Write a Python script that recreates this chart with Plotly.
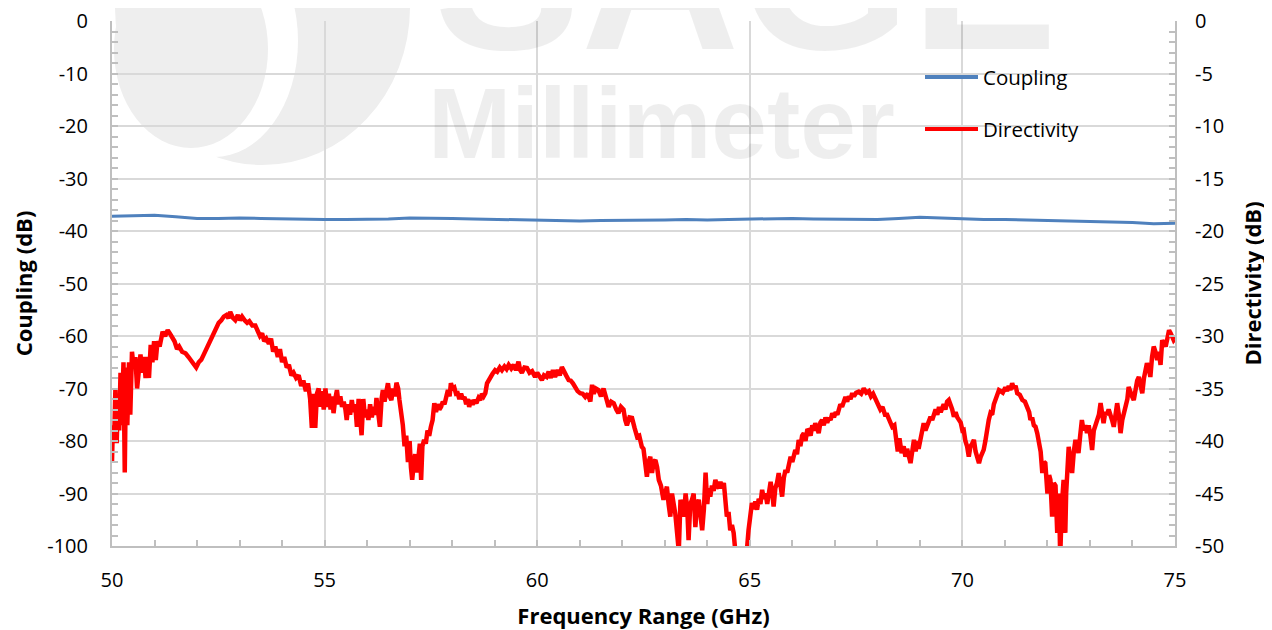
import plotly.graph_objects as go

# ---------------- data ----------------
coupling_freq = [50, 50.5, 51, 51.5, 52, 52.5, 53, 53.5, 54, 54.5, 55, 55.5, 56, 56.5, 57, 57.5, 58,
                 58.5, 59, 59.5, 60, 60.5, 61, 61.5, 62, 62.5, 63, 63.5, 64, 64.5, 65, 65.5, 66,
                 66.5, 67, 67.5, 68, 68.5, 69, 69.5, 70, 70.5, 71, 71.5, 72, 72.5, 73, 73.5, 74,
                 74.5, 75]
coupling_db = [-37.2, -37.1, -37.0, -37.3, -37.6, -37.6, -37.5, -37.6, -37.7, -37.8, -37.8, -37.8,
               -37.8, -37.7, -37.5, -37.5, -37.6, -37.7, -37.8, -37.8, -37.9, -38.0, -38.1, -38.0,
               -38.0, -37.9, -37.9, -37.8, -37.9, -37.8, -37.7, -37.6, -37.6, -37.7, -37.7,
               -37.8, -37.8, -37.6, -37.4, -37.5, -37.7, -37.8, -37.8, -37.9, -38.0, -38.1,
               -38.1, -38.3, -38.4, -38.6, -38.5]

directivity_freq = [
    50.00, 50.02, 50.05, 50.08, 50.11, 50.14, 50.17, 50.20, 50.23, 50.27, 50.30, 50.33, 50.36,
    50.40, 50.43, 50.47, 50.51, 50.55, 50.59, 50.63, 50.67, 50.71, 50.75, 50.79, 50.83, 50.87,
    50.91, 50.95, 50.99, 51.03, 51.07, 51.12, 51.19, 51.25, 51.31, 51.36, 51.41, 51.47, 51.53,
    51.58, 51.65, 51.73, 51.80, 51.88, 51.94, 51.98, 52.04, 52.10, 52.16, 52.22, 52.28, 52.34,
    52.39, 52.45, 52.51, 52.57, 52.63, 52.69, 52.74, 52.78, 52.84, 52.90, 52.96, 53.01, 53.06,
    53.12, 53.18, 53.23, 53.30, 53.37, 53.43, 53.48, 53.53, 53.58, 53.63, 53.69, 53.74, 53.79,
    53.84, 53.90, 53.95, 54.00, 54.05, 54.11, 54.16, 54.22, 54.27, 54.33, 54.39, 54.45, 54.50,
    54.56, 54.61, 54.66, 54.70, 54.73, 54.78, 54.82, 54.86, 54.90, 54.94, 54.98, 55.02, 55.06,
    55.10, 55.14, 55.18, 55.21, 55.25, 55.29, 55.33, 55.37, 55.41, 55.45, 55.49, 55.52, 55.56,
    55.60, 55.64, 55.68, 55.72, 55.76, 55.80, 55.84, 55.87, 55.91, 55.95, 55.99, 56.03, 56.07,
    56.11, 56.15, 56.19, 56.22, 56.26, 56.30, 56.34, 56.37, 56.41, 56.45, 56.49, 56.53, 56.57,
    56.61, 56.65, 56.69, 56.73, 56.76, 56.80, 56.84, 56.88, 56.92, 56.96, 57.00, 57.03, 57.06,
    57.10, 57.13, 57.17, 57.20, 57.24, 57.27, 57.30, 57.34, 57.38, 57.42, 57.46, 57.50, 57.54,
    57.58, 57.62, 57.66, 57.70, 57.74, 57.78, 57.82, 57.86, 57.90, 57.94, 57.97, 58.01, 58.05,
    58.09, 58.13, 58.17, 58.21, 58.25, 58.29, 58.33, 58.37, 58.40, 58.44, 58.48, 58.52, 58.57,
    58.62, 58.66, 58.70, 58.74, 58.78, 58.82, 58.86, 58.90, 58.95, 59.01, 59.06, 59.12, 59.17,
    59.23, 59.28, 59.33, 59.39, 59.45, 59.50, 59.56, 59.60, 59.64, 59.70, 59.76, 59.82, 59.88,
    59.95, 60.00, 60.05, 60.11, 60.16, 60.22, 60.27, 60.32, 60.37, 60.42, 60.48, 60.53, 60.58,
    60.63, 60.68, 60.74, 60.79, 60.84, 60.89, 60.95, 61.01, 61.07, 61.13, 61.19, 61.25, 61.29,
    61.33, 61.38, 61.44, 61.50, 61.56, 61.62, 61.68, 61.74, 61.80, 61.86, 61.91, 61.97, 62.03,
    62.07, 62.11, 62.17, 62.23, 62.29, 62.35, 62.40, 62.46, 62.50, 62.54, 62.58, 62.62, 62.66,
    62.70, 62.74, 62.78, 62.82, 62.86, 62.91, 62.97, 63.01, 63.05, 63.09, 63.13, 63.17, 63.21,
    63.25, 63.29, 63.33, 63.37, 63.41, 63.45, 63.49, 63.53, 63.56, 63.60, 63.64, 63.68, 63.72,
    63.76, 63.80, 63.84, 63.88, 63.92, 63.96, 64.00, 64.03, 64.07, 64.11, 64.15, 64.19, 64.23,
    64.27, 64.31, 64.35, 64.39, 64.43, 64.46, 64.50, 64.54, 64.58, 64.62, 64.66, 64.75, 64.85,
    64.93, 64.97, 65.01, 65.05, 65.09, 65.13, 65.17, 65.21, 65.25, 65.29, 65.33, 65.37, 65.41,
    65.45, 65.49, 65.53, 65.56, 65.60, 65.64, 65.68, 65.72, 65.76, 65.80, 65.84, 65.88, 65.92,
    65.96, 66.00, 66.04, 66.07, 66.11, 66.15, 66.19, 66.23, 66.27, 66.31, 66.35, 66.39, 66.43,
    66.47, 66.51, 66.54, 66.58, 66.62, 66.66, 66.70, 66.74, 66.78, 66.82, 66.86, 66.90, 66.94,
    66.98, 67.02, 67.06, 67.09, 67.13, 67.17, 67.21, 67.25, 67.29, 67.33, 67.37, 67.41, 67.45,
    67.50, 67.56, 67.62, 67.68, 67.74, 67.80, 67.85, 67.90, 67.96, 68.01, 68.07, 68.12, 68.18,
    68.23, 68.29, 68.35, 68.40, 68.44, 68.48, 68.52, 68.57, 68.62, 68.66, 68.70, 68.74, 68.78,
    68.82, 68.86, 68.90, 68.94, 68.97, 69.01, 69.05, 69.09, 69.13, 69.17, 69.21, 69.25, 69.29,
    69.33, 69.37, 69.41, 69.45, 69.49, 69.52, 69.56, 69.60, 69.64, 69.68, 69.72, 69.76, 69.80,
    69.84, 69.88, 69.92, 69.96, 70.00, 70.03, 70.07, 70.11, 70.15, 70.19, 70.23, 70.27, 70.31,
    70.35, 70.39, 70.43, 70.46, 70.50, 70.54, 70.58, 70.62, 70.66, 70.70, 70.74, 70.78, 70.82,
    70.86, 70.90, 70.95, 71.01, 71.05, 71.09, 71.13, 71.17, 71.21, 71.25, 71.29, 71.35, 71.41,
    71.47, 71.53, 71.57, 71.60, 71.64, 71.68, 71.72, 71.76, 71.80, 71.84, 71.88, 71.92, 71.95,
    71.98, 72.00, 72.04, 72.07, 72.09, 72.11, 72.15, 72.19, 72.21, 72.23, 72.27, 72.30, 72.34,
    72.38, 72.40, 72.42, 72.44, 72.46, 72.50, 72.54, 72.58, 72.62, 72.66, 72.70, 72.73, 72.77,
    72.81, 72.85, 72.89, 72.93, 72.97, 73.01, 73.05, 73.09, 73.13, 73.17, 73.21, 73.25, 73.28,
    73.32, 73.36, 73.40, 73.44, 73.48, 73.52, 73.56, 73.60, 73.64, 73.68, 73.72, 73.76, 73.80,
    73.84, 73.88, 73.91, 73.95, 73.99, 74.03, 74.07, 74.11, 74.15, 74.19, 74.23, 74.27, 74.30,
    74.34, 74.38, 74.42, 74.46, 74.50, 74.54, 74.58, 74.62, 74.66, 74.70, 74.74, 74.78, 74.82,
    74.86, 74.90, 74.93, 74.97, 75.00]

directivity_db = [
    -42.0, -38.5, -40.0, -35.0, -40.2, -36.0, -39.0, -33.5, -38.5, -32.5, -43.0, -33.0, -38.5,
    -32.5, -37.5, -31.5, -33.0, -32.0, -35.0, -33.0, -31.75, -33.5, -32.0, -34.0, -32.0, -34.0,
    -30.85, -32.5, -30.5, -32.3, -30.5, -31.0, -29.6, -30.0, -29.45, -29.75, -30.15, -30.5, -31.25,
    -31.0, -31.5, -31.65, -32.0, -32.45, -32.75, -33.0, -32.5, -32.25, -31.75, -31.25, -30.75, -30.25,
    -29.75, -29.25, -28.75, -28.5, -28.15, -28.0, -28.3, -27.7, -28.25, -28.5, -28.0, -28.5, -28.15,
    -28.5, -28.75, -28.6, -29.0, -29.0, -29.5, -30.0, -29.75, -30.5, -30.25, -30.75, -30.25, -31.5,
    -31.0, -32.0, -31.25, -32.5, -32.0, -33.0, -32.75, -33.75, -33.5, -34.0, -33.75, -34.75, -34.25,
    -35.25, -34.5, -36.0, -38.75, -35.5, -38.75, -35.5, -35.0, -36.75, -35.25, -37.0, -35.0, -36.75,
    -35.5, -37.0, -35.75, -37.35, -36.0, -35.15, -36.5, -35.75, -36.75, -36.25, -37.0, -38.0, -36.5,
    -37.5, -36.1, -37.25, -36.5, -38.65, -36.0, -37.5, -39.45, -36.0, -37.75, -37.0, -38.0, -36.5,
    -37.75, -36.75, -37.5, -35.9, -37.0, -38.65, -36.0, -35.15, -36.25, -35.0, -34.5, -35.75, -36.1,
    -35.0, -35.75, -34.45, -35.0, -36.1, -37.0, -38.5, -40.5, -39.5, -42.0, -40.0, -42.5, -43.7,
    -42.0, -41.25, -43.0, -41.5, -40.25, -43.7, -40.5, -39.9, -40.25, -39.0, -39.5, -38.65, -38.0,
    -36.4, -37.25, -36.5, -37.0, -36.75, -36.25, -36.5, -35.5, -35.15, -35.75, -34.5, -35.0, -34.9,
    -35.5, -35.45, -36.0, -35.5, -36.0, -35.8, -36.5, -36.0, -36.75, -36.1, -36.55, -36.1, -36.4,
    -35.9, -36.1, -35.5, -35.75, -35.45, -34.5, -34.2, -33.75, -33.6, -33.25, -33.4, -33.0, -33.25,
    -32.9, -33.15, -32.75, -33.1, -32.75, -33.25, -32.45, -33.25, -33.5, -33.0, -33.05, -33.5, -33.35,
    -33.9, -33.5, -33.75, -34.2, -33.75, -33.9, -33.4, -34.0, -33.25, -33.9, -33.25, -33.75, -32.95,
    -33.5, -33.75, -34.2, -34.25, -34.5, -34.85, -35.25, -35.45, -35.5, -35.8, -35.5, -36.25, -34.65,
    -35.5, -35.0, -35.15, -35.75, -35.0, -36.0, -36.75, -36.25, -36.4, -37.0, -37.35, -36.75, -37.0,
    -38.0, -38.5, -37.75, -37.8, -38.75, -39.6, -39.5, -40.55, -40.75, -41.8, -43.4, -42.0, -41.5,
    -43.05, -42.0, -41.8, -42.5, -43.7, -44.25, -45.6, -44.75, -44.35, -46.0, -47.2, -45.0, -45.9,
    -47.0, -48.75, -50.5, -45.6, -46.5, -47.2, -45.0, -46.5, -49.45, -46.0, -45.6, -45.0, -48.2,
    -46.0, -45.6, -47.0, -48.5, -46.5, -43.0, -46.0, -44.5, -45.3, -44.25, -44.75, -43.7, -44.25,
    -44.5, -43.9, -44.5, -44.0, -45.5, -47.2, -46.75, -48.5, -48.0, -48.75, -50.5, -51.5, -51.5,
    -50.5, -48.5, -47.0, -45.9, -46.5, -45.75, -46.55, -45.5, -46.0, -44.65, -45.5, -45.0, -46.0,
    -44.75, -43.9, -45.0, -46.25, -44.5, -44.0, -43.05, -44.0, -45.3, -43.5, -42.75, -43.0, -42.0,
    -41.5, -42.0, -41.0, -40.85, -41.25, -39.9, -40.5, -39.5, -39.25, -40.0, -39.0, -38.95, -39.5,
    -38.5, -39.0, -38.3, -38.75, -39.25, -38.25, -38.0, -38.5, -37.75, -38.25, -37.8, -38.0, -37.35,
    -37.75, -37.25, -37.5, -37.0, -36.5, -36.75, -36.25, -35.8, -36.25, -35.75, -36.0, -35.45, -35.75,
    -35.4, -35.3, -35.5, -35.0, -35.4, -35.25, -35.75, -35.5, -36.1, -36.5, -37.0, -36.75, -37.5,
    -37.5, -38.0, -38.65, -38.5, -40.25, -41.0, -39.75, -41.15, -40.5, -41.5, -40.75, -41.5, -42.1,
    -41.0, -39.9, -41.0, -40.0, -40.75, -39.75, -39.25, -38.3, -39.0, -38.5, -38.0, -37.7, -38.0,
    -37.25, -37.0, -37.5, -36.75, -37.25, -37.0, -36.5, -37.0, -36.25, -36.1, -36.5, -37.0, -37.7,
    -37.25, -37.75, -38.0, -38.25, -39.0, -38.95, -40.0, -40.5, -41.5, -40.5, -40.25, -39.9, -41.0,
    -41.5, -42.1, -41.5, -41.25, -40.85, -40.0, -38.65, -38.0, -37.35, -37.5, -36.5, -36.1, -35.5,
    -35.15, -35.25, -35.4, -34.9, -35.25, -34.75, -35.15, -34.5, -35.0, -34.75, -35.45, -35.6, -36.1,
    -36.25, -36.75, -37.25, -38.0, -37.75, -38.5, -38.65, -39.25, -40.2, -41.0, -43.05, -42.0, -42.1,
    -43.5, -45.0, -43.25, -43.7, -45.5, -47.2, -44.0, -44.25, -46.5, -48.75, -45.0, -51.0, -46.0,
    -43.7, -46.5, -48.75, -45.0, -43.7, -40.55, -42.0, -43.05, -41.0, -39.9, -40.5, -41.15, -39.5,
    -38.0, -39.0, -38.5, -39.25, -38.5, -39.5, -40.85, -39.0, -38.5, -38.0, -37.5, -36.4, -37.5,
    -38.3, -37.25, -37.5, -37.0, -37.75, -38.0, -38.65, -37.5, -36.4, -37.5, -39.25, -38.0, -37.25,
    -36.75, -36.0, -34.85, -35.5, -35.75, -36.1, -35.0, -34.25, -33.9, -34.5, -35.45, -34.0, -33.25,
    -32.6, -33.0, -33.9, -32.0, -31.0, -31.5, -32.3, -31.5, -32.75, -30.4, -30.75, -31.0, -30.25,
    -29.45, -29.75, -30.1, -30.4, -30.25]

x_ticks = [50, 55, 60, 65, 70, 75]
left_ticks = [0, -10, -20, -30, -40, -50, -60, -70, -80, -90, -100]
right_ticks = [0, -5, -10, -15, -20, -25, -30, -35, -40, -45, -50]
series_names = ["Coupling", "Directivity"]
series_colors = ["#4F81BD", "#FF0000"]

# ---------------- layout helpers ----------------
# the page body adds an 8 px offset, so the figure is 8 px smaller than the window
OFF = 8
W, H = 1272 - OFF, 630 - OFF
L, R, T, B = 112, 1175, 21, 546          # plot area in window pixels
def px(x):
    return (x - L) / (R - L)
def py(y):
    return (B - y) / (B - T)

FONT = "Open Sans"
AX = "#BFBFBF"
GRID = "#D9D9D9"

fig = go.Figure()
fig.add_trace(go.Scatter(x=coupling_freq, y=coupling_db, name=series_names[0], mode="lines",
                         line=dict(color=series_colors[0], width=3), showlegend=False))
fig.add_trace(go.Scatter(x=directivity_freq, y=directivity_db, name=series_names[1], mode="lines",
                         yaxis="y2", line=dict(color=series_colors[1], width=4.5),
                         showlegend=False))

# watermark logo (very light)
WM = "#EEEEEE"
shapes = [
    dict(type="circle", xref="paper", yref="paper", layer="below", line_width=0, fillcolor=WM,
         x0=px(115), x1=px(410), y0=py(165), y1=py(-150)),
    dict(type="circle", xref="paper", yref="paper", layer="below", line_width=0, fillcolor="white",
         x0=px(130), x1=px(298), y0=py(157), y1=py(-75)),
    dict(type="circle", xref="paper", yref="paper", layer="below", line_width=0, fillcolor=WM,
         x0=px(114), x1=px(268), y0=py(148), y1=py(-50)),
]

annotations = [
    dict(text="<b>SAGE</b>", xref="paper", yref="paper", x=px(432), y=py(98), xanchor="left",
         yanchor="bottom", showarrow=False, font=dict(family="Liberation Sans", size=220,
         color="rgba(0,0,0,0.065)")),
    dict(text="<b>Millimeter</b>", xref="paper", yref="paper", x=px(426), y=py(181),
         xanchor="left", yanchor="bottom", showarrow=False,
         font=dict(family="Liberation Sans", size=100, color="rgba(0,0,0,0.065)")),
]

# hand-drawn legend (longer line samples, like the original)
legend_y = [77, 129]
for name, color, yy in zip(series_names, series_colors, legend_y):
    shapes.append(dict(type="line", xref="paper", yref="paper", layer="above",
                       x0=px(925), x1=px(978), y0=py(yy), y1=py(yy),
                       line=dict(color=color, width=4)))
    annotations.append(dict(text=name, xref="paper", yref="paper", x=px(981), y=py(yy),
                            xanchor="left", yanchor="middle", showarrow=False,
                            font=dict(family=FONT, size=20.5, color="black")))

def ax_common(ticks, minor_dtick, standoff):
    return dict(tickvals=ticks, ticktext=[str(t) for t in ticks],
                showline=True, linecolor=AX, linewidth=2, ticks="inside", ticklen=6,
                tickcolor=AX, tickwidth=1.5, zeroline=False, ticklabelstandoff=standoff,
                automargin=False, ticklabeloverflow="allow",
                minor=dict(dtick=minor_dtick, ticks="inside", ticklen=6, tickcolor=AX,
                           tickwidth=1.5, showgrid=False))

TITLE_FONT = dict(family=FONT, size=22, color="black")

fig.update_layout(
    width=W, height=H,
    margin=dict(l=L - OFF, r=W - (R - OFF), t=T - OFF, b=H - (B - OFF), autoexpand=False),
    paper_bgcolor="white", plot_bgcolor="rgba(0,0,0,0)",
    font=dict(family=FONT, size=20, color="black"),
    shapes=shapes, annotations=annotations,
    showlegend=False,
    xaxis=dict(range=[50, 75], showgrid=True, gridcolor=GRID, gridwidth=1.5,
               title=dict(text="<b>Frequency Range (GHz)</b>", font=TITLE_FONT, standoff=17),
               **ax_common(x_ticks, 1, 15)),
    yaxis=dict(range=[-100, 0], showgrid=True, gridcolor=GRID, gridwidth=1.5,
               title=dict(text="<b>Coupling (dB)</b>", font=TITLE_FONT, standoff=16),
               **ax_common(left_ticks, 2, 18)),
    yaxis2=dict(range=[-50, 0], overlaying="y", side="right", showgrid=False,
                title=dict(text="<b>Directivity (dB)</b>", font=TITLE_FONT, standoff=22),
                **ax_common(right_ticks, 1, 14)),
)

fig.write_html("out.html")
